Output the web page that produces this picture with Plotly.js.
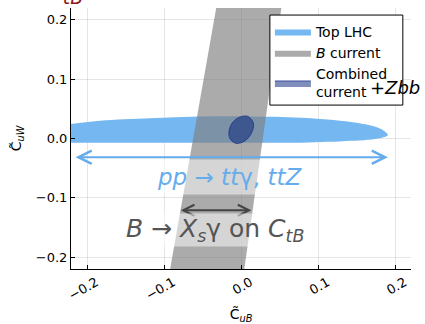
<!DOCTYPE html>
<html>
<head>
<meta charset="utf-8">
<script src="https://cdn.plot.ly/plotly-3.0.1.min.js"></script>
<style>html,body{margin:0;padding:0;background:#fff;}#plot{width:425px;height:324px;}</style>
</head>
<body>
<div id="plot"></div>
<script>
// Top LHC allowed region (boundary)
const topLHC_x = [-0.245, -0.219, -0.183, -0.118, -0.053, 0.012, 0.077, 0.142, 0.168, 0.181, 0.190, 0.181, 0.142, 0.077, -0.053, -0.183, -0.219, -0.245];
const topLHC_y = [0.022, 0.025, 0.030, 0.034, 0.037, 0.037, 0.035, 0.028, 0.022, 0.016, 0.006, 0.001, -0.004, -0.007, -0.007, -0.007, -0.007, -0.005];
// B current band (corners)
const bBand_x = [-0.0286, 0.0551, 0.0005, -0.0965, -0.0286];
const bBand_y = [0.25, 0.25, -0.25, -0.25, 0.25];
// Combined current + Zbb region
const comb_x = [0.0078, 0.0156, 0.0130, 0.0039, -0.0078, -0.0156, -0.0143, -0.0052, 0.0078];
const comb_y = [0.0376, 0.0258, 0.0089, -0.0046, -0.0079, 0.0022, 0.0207, 0.0342, 0.0376];
// Arrows
const ppArrow = {x0: -0.217, x1: 0.190, y: -0.0315};
const bArrow = {x0: -0.0805, x1: 0.013, y: -0.121};
const tickVals = [-0.2, -0.1, 0.0, 0.1, 0.2];
const tickText = ['\u22120.2', '\u22120.1', '0.0', '0.1', '0.2'];

const font = 'DejaVu Sans, sans-serif';
const traces = [
  {x: topLHC_x, y: topLHC_y, type: 'scatter', mode: 'lines', fill: 'toself', line: {shape: 'spline', width: 0, color: 'rgba(110,178,238,1)'}, fillcolor: 'rgba(117,183,240,1)', name: 'Top LHC', hoverinfo: 'skip'},
  {x: bBand_x, y: bBand_y, type: 'scatter', mode: 'lines', fill: 'toself', line: {width: 0, color: 'rgba(128,128,128,0.66)'}, fillcolor: 'rgba(128,128,128,0.66)', name: '<i>B</i> current', hoverinfo: 'skip'},
  {x: comb_x, y: comb_y, type: 'scatter', mode: 'lines', fill: 'toself', line: {shape: 'spline', width: 1, color: 'rgba(20,40,140,0.7)'}, fillcolor: 'rgba(0,30,120,0.5)', name: 'Combined<br>current', hoverinfo: 'skip'}
];

const layout = {
  width: 425, height: 324,
  margin: {l: 71, r: 14, t: 8, b: 55},
  paper_bgcolor: '#fff', plot_bgcolor: '#fff',
  font: {family: font, size: 13, color: '#000'},
  showlegend: true,
  legend: {x: 0.585, y: 0.97, xanchor: 'left', yanchor: 'top', bgcolor: 'rgba(0,0,0,0)', borderwidth: 0, itemwidth: 36, font: {family: font, size: 14}},
  shapes: [
    {type: 'rect', xref: 'paper', yref: 'paper', x0: 0.585, x1: 0.976, y0: 0.628, y1: 0.973, fillcolor: '#fff', line: {color: '#000', width: 1}, layer: 'above'}
  ],
  xaxis: {range: [-0.221, 0.22], tickvals: tickVals, ticktext: tickText, tickangle: -30, ticklabelshift: 9, showline: true, linecolor: '#000', linewidth: 1, mirror: false, ticks: 'inside', ticklen: 4, tickcolor: '#000', showgrid: true, gridcolor: 'rgba(0,0,0,0.1)', zeroline: false, tickfont: {size: 13},
    title: {text: 'C\u0303<sub><i>uB</i></sub>', font: {size: 14}, standoff: 8}},
  yaxis: {range: [-0.22, 0.22], tickvals: tickVals, ticktext: tickText, showline: true, linecolor: '#000', linewidth: 1, ticks: 'inside', ticklen: 4, tickcolor: '#000', showgrid: true, gridcolor: 'rgba(0,0,0,0.1)', zeroline: false, tickfont: {size: 13},
    title: {text: 'C\u0303<sub><i>uW</i></sub>', font: {size: 14}, standoff: 10}},
  annotations: [
    {x: ppArrow.x1, y: ppArrow.y, ax: ppArrow.x0, ay: ppArrow.y, xref: 'x', yref: 'y', axref: 'x', ayref: 'y', showarrow: true, arrowside: 'end+start', arrowhead: 5, arrowsize: 1.3, arrowwidth: 2, arrowcolor: 'rgb(100,172,235)', standoff: 0, startstandoff: 0, text: ''},
    {x: bArrow.x1, y: bArrow.y, ax: bArrow.x0, ay: bArrow.y, xref: 'x', yref: 'y', axref: 'x', ayref: 'y', showarrow: true, arrowside: 'end+start', arrowhead: 5, arrowsize: 1.1, arrowwidth: 2, arrowcolor: '#444', standoff: 0, startstandoff: 0, text: ''},
    {x: -0.016, y: -0.065, xref: 'x', yref: 'y', showarrow: false, text: '<i>pp</i> \u2192 <i>tt</i>\u03b3, <i>ttZ</i>', font: {family: font, size: 23, color: 'rgb(100,172,235)'}, bgcolor: 'rgba(255,255,255,0.5)', borderpad: 4},
    {x: -0.034, y: -0.155, xref: 'x', yref: 'y', showarrow: false, text: '<i>B</i> \u2192 <i>X<sub>s</sub></i>\u03b3 on <i>C<sub>tB</sub></i>', font: {family: font, size: 25, color: '#555'}, bgcolor: 'rgba(255,255,255,0.5)', borderpad: 0},
    {x: 0.874, y: 0.695, xref: 'paper', yref: 'paper', xanchor: 'left', yanchor: 'middle', showarrow: false, text: '<i>+Zbb</i>', font: {family: font, size: 18, color: '#000'}},
    {x: -0.085, y: 1.0, xref: 'paper', yref: 'paper', xanchor: 'left', yanchor: 'bottom', yshift: -2, showarrow: false, text: '<i>C<sub>tB</sub></i>', font: {family: font, size: 27, color: '#8b1a1a'}}
  ]
};
Plotly.newPlot('plot', traces, layout, {displayModeBar: false, staticPlot: true});
</script>
</body>
</html>
